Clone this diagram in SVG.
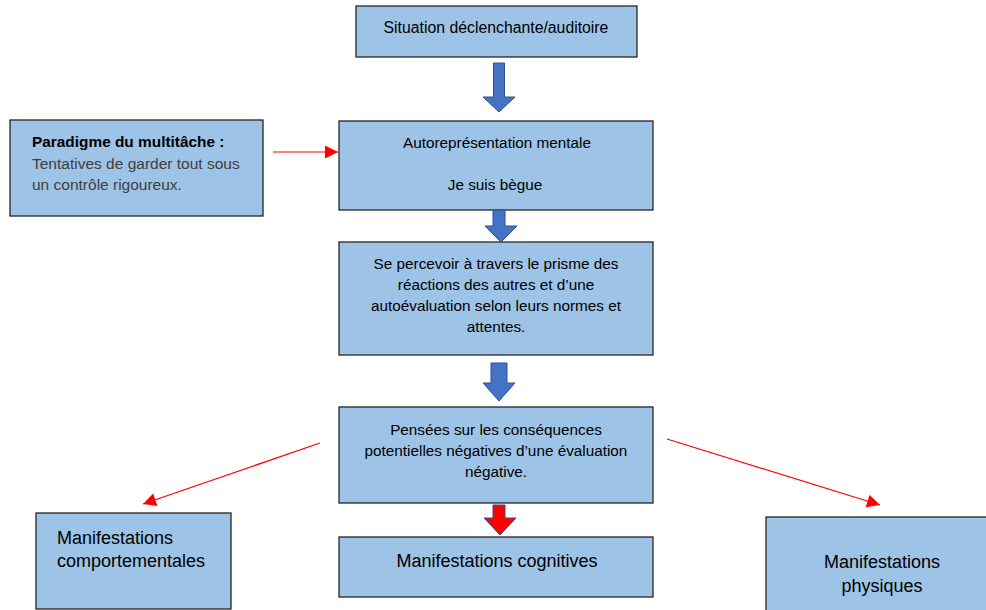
<svg xmlns="http://www.w3.org/2000/svg" width="986" height="610" viewBox="0 0 986 610">
<defs>
<style>
.box{fill:#9DC3E6;stroke:#262626;stroke-width:1.3}
.t{font-family:"Liberation Sans",Arial,sans-serif;fill:#000;text-anchor:middle}
.s{font-family:"Liberation Sans",Arial,sans-serif}
.bl{fill:#4472C4;stroke:#2F528F;stroke-width:1}
.rd{fill:#FF0000;stroke:#2F528F;stroke-width:1}
.rl{stroke:#FF0000;stroke-width:1.2;fill:none}
</style>
<marker id="rh" viewBox="0 0 10 10" refX="10" refY="5" markerWidth="16" markerHeight="13" markerUnits="userSpaceOnUse" orient="auto">
<path d="M0,0 L10,5 L0,10 Z" fill="#FF0000"/>
</marker>
</defs>
<rect width="986" height="610" fill="#FFFFFF"/>

<g id="situation">
<rect class="box" x="356" y="6" width="281" height="51"/>
<text class="t" x="496" y="33" font-size="15.8">Situation déclenchante/auditoire</text>
</g>

<g id="paradigme">
<rect class="box" x="10" y="120" width="253" height="96"/>
<text class="s" font-size="15.4" x="32" y="147" font-weight="bold" fill="#000">Paradigme du multitâche :</text>
<text class="s" font-size="15.5" x="32" y="169" fill="#404040">Tentatives de garder tout sous</text>
<text class="s" font-size="15.5" x="32" y="190" fill="#404040">un contrôle rigoureux.</text>
</g>

<g id="autorepresentation">
<rect class="box" x="339" y="121" width="314" height="89"/>
<text class="t" x="497" y="148" font-size="15.3">Autoreprésentation mentale</text>
<text class="t" x="495" y="190" font-size="15.3">Je suis bègue</text>
</g>

<g id="percevoir">
<rect class="box" x="339" y="242" width="314" height="113"/>
<text class="t" x="496" y="269" font-size="15.3">Se percevoir à travers le prisme des</text>
<text class="t" x="496" y="290" font-size="15.3">réactions des autres et d’une</text>
<text class="t" x="496" y="311" font-size="15.3">autoévaluation selon leurs normes et</text>
<text class="t" x="496" y="332" font-size="15.3">attentes.</text>
</g>

<g id="pensees">
<rect class="box" x="339" y="407" width="314" height="96"/>
<text class="t" x="496" y="435" font-size="15.3">Pensées sur les conséquences</text>
<text class="t" x="496" y="456" font-size="15.3">potentielles négatives d’une évaluation</text>
<text class="t" x="496" y="477" font-size="15.3">négative.</text>
</g>

<g id="cognitives">
<rect class="box" x="339" y="537" width="314" height="60"/>
<text class="t" x="497" y="567" font-size="18">Manifestations cognitives</text>
</g>

<g id="comportementales">
<rect class="box" x="36" y="513" width="195" height="96"/>
<text class="s" font-size="18" x="57" y="544" fill="#000">Manifestations</text>
<text class="s" font-size="18" x="57" y="567" fill="#000">comportementales</text>
</g>

<g id="physiques">
<rect class="box" x="766" y="517" width="225" height="96"/>
<text class="t" x="882" y="568" font-size="18">Manifestations</text>
<text class="t" x="882" y="592" font-size="18">physiques</text>
</g>

<g id="connectors">
<polygon class="bl" points="493.5,63 504.5,63 504.5,97 515,97 499,112 483,97 493.5,97"/>
<polygon class="bl" points="493,210 505,210 505,226 517,226 501,242 485,226 493,226"/>
<polygon class="bl" points="491,363 507,363 507,383 515,383 499,401 483,383 491,383"/>
<polygon class="rd" points="493,505 505,505 505,518 516,518 500,535 484,518 493,518"/>
<line class="rl" x1="273" y1="152" x2="338" y2="152" marker-end="url(#rh)"/>
<line class="rl" x1="320" y1="443" x2="143" y2="504" marker-end="url(#rh)"/>
<line class="rl" x1="667" y1="439" x2="880" y2="505" marker-end="url(#rh)"/>
</g>
</svg>
